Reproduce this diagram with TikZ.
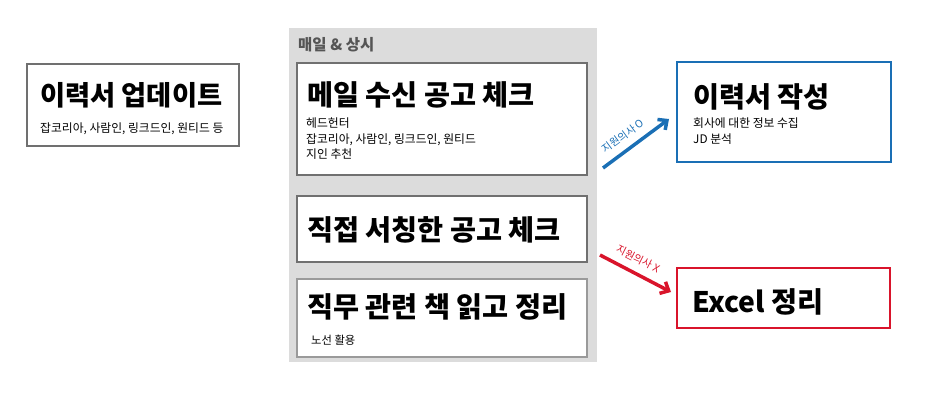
\documentclass[tikz,border=0pt]{standalone}
\usepackage{fontspec}
\setmainfont{Noto Sans CJK KR}
\newfontfamily\kr{Noto Sans CJK KR}
\usetikzlibrary{arrows.meta}
\definecolor{panelgray}{HTML}{DCDCDC}
\definecolor{boxline}{HTML}{707070}
\definecolor{boxlight}{HTML}{9A9A9A}
\definecolor{blueline}{HTML}{1A6FB5}
\definecolor{redline}{HTML}{D9142B}
\definecolor{labelgray}{HTML}{555555}
\begin{document}
\begin{tikzpicture}[x=1pt,y=-1pt,
  card/.style={draw=boxline,line width=2pt,fill=white},
  title/.style={anchor=base west,inner sep=0pt,font=\kr\bfseries\fontsize{28.3}{32}\selectfont},
  sub/.style={anchor=base west,inner sep=0pt,font=\kr\fontsize{11.8}{15.5}\selectfont,align=left},
  arrowlab/.style={inner sep=0pt,font=\kr\fontsize{10.5}{12}\selectfont},
  bigarrow/.style={line width=3.5pt,-{Straight Barb[length=7pt,width=13pt]}}]
\useasboundingbox (0,0) rectangle (940,412);
% left box
\draw[card] (27,64) rectangle (239,146);
\node[title,font=\kr\bfseries\fontsize{27.3}{31}\selectfont] (t0) at (40,106) {이력서 업데이트};
\node[sub] (s0) at (40,132) {잡코리아, 사람인, 링크드인, 원티드 등};
% gray panel
\fill[panelgray] (289,28) rectangle (597,362);
\node[anchor=base west,inner sep=0pt,text=labelgray,font=\kr\bfseries\fontsize{15.5}{17}\selectfont] (pl) at (298,51) {매일 \& 상시};
\draw[card] (297,63) rectangle (587,175);
\node[title] (t1) at (307,105) {메일 수신 공고 체크};
\node[sub,anchor=north west] (s1) at (306,118) {헤드헌터\\잡코리아, 사람인, 링크드인, 원티드\\지인 추천};
\draw[card] (297,196) rectangle (587,262);
\node[title] (t2) at (307,240) {직접 서칭한 공고 체크};
\draw[card,draw=boxlight] (297,279) rectangle (587,357);
\node[title] (t3) at (307,317) {직무 관련 책 읽고 정리};
\node[sub,font=\kr\fontsize{11.3}{14}\selectfont] (s3) at (311,344) {노선 활용};
% right boxes
\draw[card,draw=blueline] (677,62) rectangle (891,162);
\node[title] (t4) at (693,107) {이력서 작성};
\node[sub,anchor=north west] (s4) at (693,118) {회사에 대한 정보 수집\\JD 분석};
\draw[card,draw=redline] (677,268) rectangle (890,328);
\node[title] (t5) at (692,312) {Excel 정리};
% arrows
\coordinate (ba) at (603,168);
\coordinate (bb) at (669,119);
\draw[bigarrow,blueline] (ba) -- (bb);
\node[arrowlab,text=blueline,rotate=36.5] (lb) at (623,136) {지원의사 O};
\coordinate (ra) at (600,255);
\coordinate (rb) at (671,292);
\draw[bigarrow,redline] (ra) -- (rb);
\node[arrowlab,text=redline,rotate=-27] (lr) at (638,259) {지원의사 X};
\end{tikzpicture}
\end{document}
